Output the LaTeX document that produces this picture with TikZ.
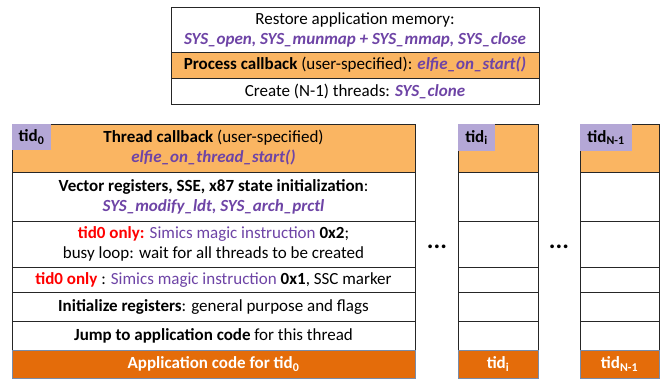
\documentclass[tikz,border=0pt]{standalone}
\usepackage{fontspec}
\setmainfont{Carlito}
\usetikzlibrary{positioning}
\definecolor{cborange}{HTML}{FAB562}
\definecolor{apporange}{HTML}{E46C0A}
\definecolor{tidlav}{HTML}{B4A7D6}
\definecolor{syspurple}{HTML}{6E44A6}
\definecolor{onlyred}{HTML}{FF0000}
\newcommand{\sysname}[1]{\textcolor{syspurple}{\textbf{\textit{#1}}}}
\newcommand{\onlytid}[1]{\textcolor{onlyred}{\textbf{#1}}}
\begin{document}
\begin{tikzpicture}[
          x=1pt,
          y=-1pt,
          font=\fontsize{17}{20}\selectfont,
          cell/.style={draw=black!85, line width=0.9pt, fill=white, anchor=north west,
                       inner sep=0pt, outer sep=0pt, align=center},
          cb/.style={cell, fill=cborange},
          app/.style={cell, fill=apporange, draw={rgb,255:red,120;green,140;blue,170},
                      line width=0.6pt, text=white, font=\fontsize{17}{20}\selectfont\bfseries},
          tag/.style={fill=tidlav, anchor=north west, inner sep=0pt, outer sep=0pt,
                      font=\fontsize{17}{20}\selectfont\bfseries},
          dots/.style={anchor=base, inner sep=0pt, font=\fontsize{25}{25}\selectfont\bfseries},
        ]
      \useasboundingbox (0, 0) rectangle (664, 383);
      % process level
      \node[cell, minimum width=368pt, minimum height=45pt] (restore) at (171, 7)
        {Restore application memory:\\ \sysname{SYS\_open, SYS\_munmap + SYS\_mmap, SYS\_close}};
      \node[cb, minimum width=368pt, minimum height=26pt] (pcb) at (171, 52)
        {\textbf{Process callback} (user-specified): \sysname{elfie\_on\_start()}};
      \node[cell, minimum width=368pt, minimum height=26pt] (clone) at (171, 78)
        {Create (N-1) threads: \sysname{SYS\_clone}};
      % thread 0
      \node[cb, minimum width=403pt, minimum height=48pt] (cb0) at (12, 124)
        {\textbf{Thread callback} (user-specified)\\ \sysname{elfie\_on\_thread\_start()}};
      \node[cell, minimum width=403pt, minimum height=49pt] (vec0) at (12, 172)
        {\textbf{Vector registers, SSE, x87 state initialization}:\\ \sysname{SYS\_modify\_ldt, SYS\_arch\_prctl}};
      \node[cell, minimum width=403pt, minimum height=46pt] (magictwo0) at (12, 221)
        {\onlytid{tid0 only:} \textcolor{syspurple}{Simics magic instruction} \textbf{0x2};\\ busy loop: wait for all threads to be created};
      \node[cell, minimum width=403pt, minimum height=25pt] (magicone0) at (12, 267)
        {\onlytid{tid0 only} : \textcolor{syspurple}{Simics magic instruction} \textbf{0x1}, SSC marker};
      \node[cell, minimum width=403pt, minimum height=29pt] (initreg0) at (12, 292)
        {\textbf{Initialize registers}: general purpose and flags};
      \node[cell, minimum width=403pt, minimum height=29pt] (jump0) at (12, 321)
        {\textbf{Jump to application code} for this thread};
      \node[app, minimum width=403pt, minimum height=28pt] (app0) at (12, 350)
        {Application code for tid\textsubscript{0}};
      \node[tag, minimum width=39pt, minimum height=26pt] (tag0) at (cb0.north west) {tid\textsubscript{0}};
      % thread i and thread N-1
      \foreach \col/\x/\w in {i/458/80, n/580/79} {
        \node[cb, minimum width={\w pt}, minimum height=48pt] (cb\col) at (\x, 124) {};
        \foreach \row/\y/\h in {vec/172/49, magictwo/221/46, magicone/267/25, initreg/292/29, jump/321/29}
          \node[cell, minimum width={\w pt}, minimum height={\h pt}] (\row\col) at (\x, \y) {};
      }
      \node[app, minimum width=80pt, minimum height=28pt] (appi) at (458, 350) {tid\textsubscript{i}};
      \node[app, minimum width=79pt, minimum height=28pt] (appn) at (580, 350) {tid\textsubscript{N-1}};
      \node[tag, minimum width=37pt, minimum height=27pt] (tagi) at (cbi.north west) {tid\textsubscript{i}};
      \node[tag, minimum width=52pt, minimum height=27pt] (tagn) at (cbn.north west) {tid\textsubscript{N-1}};
      \node[dots] (dotsi) at (437, 248) {...};
      \node[dots] (dotsn) at (559, 248) {...};
    \end{tikzpicture}
\end{document}
